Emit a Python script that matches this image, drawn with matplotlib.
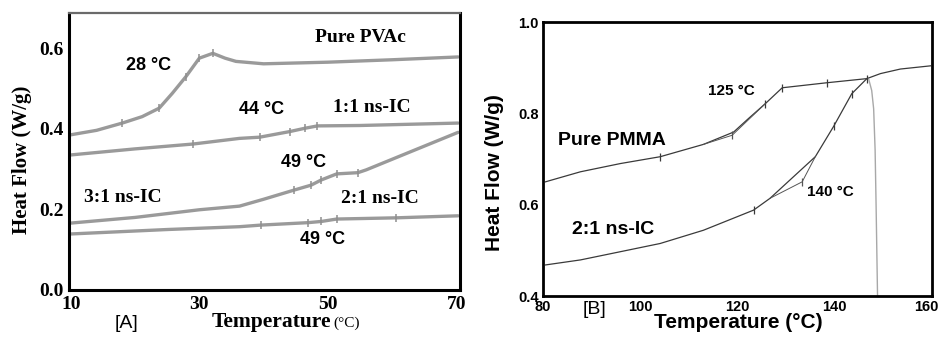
import numpy as np
import matplotlib
matplotlib.use('Agg')
import matplotlib.pyplot as plt
from matplotlib.transforms import ScaledTranslation

SERIF = 'Liberation Serif'
SANS = 'Liberation Sans'

# ---- panel A: PVAc and its ns-ICs ----
pvac_t = [10, 14, 18, 21.1, 23.75, 25.8, 27.9, 30, 32.1, 34, 35.7, 40, 50, 60, 70.3]
pvac_q = [0.385, 0.396, 0.414, 0.430, 0.451, 0.488, 0.529, 0.575, 0.587, 0.575, 0.567, 0.561, 0.565, 0.571, 0.578]
pvac_ticks = [2, 4, 6, 7, 8]

ic11_t = [10, 20, 29, 36.25, 39.4, 44.1, 46.4, 48.4, 55, 70.3]
ic11_q = [0.335, 0.350, 0.362, 0.376, 0.379, 0.393, 0.401, 0.407, 0.408, 0.414]
ic11_ticks = [2, 4, 5, 6, 7]

ic31_t = [10, 20, 30, 36.25, 40, 44.8, 47.4, 49, 51.4, 54.7, 56, 62.3, 70.3]
ic31_q = [0.166, 0.180, 0.199, 0.208, 0.225, 0.248, 0.260, 0.273, 0.288, 0.291, 0.298, 0.339, 0.391]
ic31_ticks = [5, 6, 7, 8, 9]

ic21_t = [10, 25, 36.25, 39.6, 46.9, 49, 51.4, 60.7, 70.3]
ic21_q = [0.139, 0.150, 0.157, 0.161, 0.167, 0.170, 0.176, 0.179, 0.184]
ic21_ticks = [3, 4, 5, 6, 7]

a_xticks = [10, 30, 50, 70]
a_yticks = [0.0, 0.2, 0.4, 0.6]

# ---- panel B: PMMA ----
pmma_t = [80.5, 87.7, 95.9, 104.1, 113, 119.2, 122.3, 125.7, 129.2, 138.4, 146.6, 149.4, 153.5, 159.7]
pmma_q = [0.650, 0.672, 0.690, 0.705, 0.732, 0.759, 0.789, 0.821, 0.856, 0.867, 0.876, 0.887, 0.897, 0.904]
pmma_ticks = [3, 7, 8, 9, 10]
pmma_tan_t = [113, 118.9, 125.7]
pmma_tan_q = [0.732, 0.752, 0.821]

pm21_t = [80.5, 87.7, 95, 104.1, 113, 123.3, 126.7, 131.5, 136, 139.8, 143.5, 146.6]
pm21_q = [0.468, 0.479, 0.495, 0.515, 0.544, 0.588, 0.614, 0.661, 0.705, 0.772, 0.843, 0.876]
pm21_ticks = [5, 9, 10]
pm21_tan_t = [126.7, 133.3, 136]
pm21_tan_q = [0.614, 0.650, 0.705]

drop_t = [147.0, 147.6, 148.0, 148.3, 148.5, 148.8]
drop_q = [0.874, 0.850, 0.810, 0.720, 0.600, 0.400]

b_xticks = [80, 100, 120, 140, 160]
b_yticks = [0.4, 0.6, 0.8, 1.0]

W, H = 942, 339
fig = plt.figure(figsize=(W / 100, H / 100), dpi=100)


def fx(px):
    return px / W


def fy(py):
    return 1 - py / H


# panel A
axA = fig.add_axes([fx(69), fy(290), fx(460 - 69), fy(13) - fy(290)])
grey = '#9a9a9a'
for t, q, mk in [(pvac_t, pvac_q, pvac_ticks), (ic11_t, ic11_q, ic11_ticks),
                 (ic31_t, ic31_q, ic31_ticks), (ic21_t, ic21_q, ic21_ticks)]:
    axA.plot(t, q, color=grey, lw=2.4, solid_capstyle='round',
             marker='|', markevery=mk, ms=6, mew=1.1, mec='#8f8f8f')
axA.set_xlim(9.7, 70.6)
axA.set_ylim(0, 0.687)
axA.set_xticks(a_xticks)
axA.set_yticks(a_yticks)
axA.set_yticklabels(['%.1f' % v for v in a_yticks])
axA.tick_params(length=0, pad=4)
for lab in axA.get_xticklabels() + axA.get_yticklabels():
    lab.set_fontfamily(SERIF)
    lab.set_fontweight('bold')
    lab.set_fontsize(14)
for s in ['left', 'bottom', 'right']:
    axA.spines[s].set_linewidth(2.2)
axA.spines['top'].set_linewidth(1.6)
axA.spines['top'].set_color('#6a6a6a')

sans_kw = dict(family=SANS, fontweight='bold', fontsize=13, ha='center', va='center')
serif_kw = dict(family=SERIF, fontweight='bold', fontsize=14, ha='center', va='center')
fig.text(fx(360), fy(37), 'Pure PVAc', **serif_kw)
fig.text(fx(149), fy(66), '28 °C', **sans_kw)
fig.text(fx(262), fy(109), '44 °C', **sans_kw)
fig.text(fx(372), fy(107), '1:1 ns-IC', **serif_kw)
fig.text(fx(304), fy(162), '49 °C', **sans_kw)
fig.text(fx(123), fy(198), '3:1 ns-IC', **serif_kw)
fig.text(fx(380), fy(199), '2:1 ns-IC', **serif_kw)
fig.text(fx(323), fy(240), '49 °C', **sans_kw)

fig.text(fx(22), fy(160), 'Heat Flow (W/g)', family=SERIF, fontweight='bold',
         fontsize=15, rotation=90, ha='center', va='center')
fig.text(fx(212), fy(322), 'Temperature', family=SERIF, fontweight='bold',
         fontsize=15.5, ha='left', va='center')
fig.text(fx(333), fy(323), '(°C)', family=SERIF, fontsize=11, ha='left', va='center')
fig.text(fx(126), fy(323), '[A]', family=SANS, fontsize=14, ha='center', va='center')

# panel B
axB = fig.add_axes([fx(543), fy(296), fx(932 - 543), fy(22) - fy(296)])
axB.plot(pmma_t, pmma_q, color='#3a3a3a', lw=0.9,
         marker='|', markevery=pmma_ticks, ms=6, mew=0.9)
axB.plot(pmma_tan_t, pmma_tan_q, color='#555555', lw=0.7,
         marker='|', markevery=[1], ms=6, mew=0.9)
axB.plot(pm21_t, pm21_q, color='#3a3a3a', lw=0.9,
         marker='|', markevery=pm21_ticks, ms=6, mew=0.9)
axB.plot(pm21_tan_t, pm21_tan_q, color='#555555', lw=0.7,
         marker='|', markevery=[1], ms=6, mew=0.9)
axB.plot(drop_t, drop_q, color='#a8a8a8', lw=1.0)
axB.set_xlim(80, 160)
axB.set_ylim(0.4, 1.0)
axB.set_xticks(b_xticks)
axB.set_yticks(b_yticks)
axB.set_yticklabels(['%.1f' % v for v in b_yticks])
axB.tick_params(length=0, pad=3)
for lab in axB.get_xticklabels() + axB.get_yticklabels():
    lab.set_fontfamily(SANS)
    lab.set_fontweight('bold')
    lab.set_fontsize(10.5)
# keep the last x label inside the figure
last = axB.get_xticklabels()[-1]
last.set_transform(last.get_transform() + ScaledTranslation(-4 / 72, 0, fig.dpi_scale_trans))
for s in axB.spines.values():
    s.set_linewidth(2.0)

fig.text(fx(731), fy(91), '125 °C', family=SANS, fontweight='bold', fontsize=11,
         ha='center', va='center')
fig.text(fx(830), fy(192), '140 °C', family=SANS, fontweight='bold', fontsize=11,
         ha='center', va='center')
fig.text(fx(612), fy(140), 'Pure PMMA', family=SANS, fontweight='bold', fontsize=14,
         ha='center', va='center')
fig.text(fx(613), fy(230), '2:1 ns-IC', family=SANS, fontweight='bold', fontsize=14,
         ha='center', va='center')
fig.text(fx(495), fy(173), 'Heat Flow (W/g)', family=SANS, fontweight='bold',
         fontsize=15, rotation=90, ha='center', va='center')
fig.text(fx(738), fy(322), 'Temperature (°C)', family=SANS, fontweight='bold',
         fontsize=15, ha='center', va='center')
fig.text(fx(594), fy(310), '[B]', family=SANS, fontsize=14, ha='center', va='center')

fig.savefig('out.png', dpi=100)
